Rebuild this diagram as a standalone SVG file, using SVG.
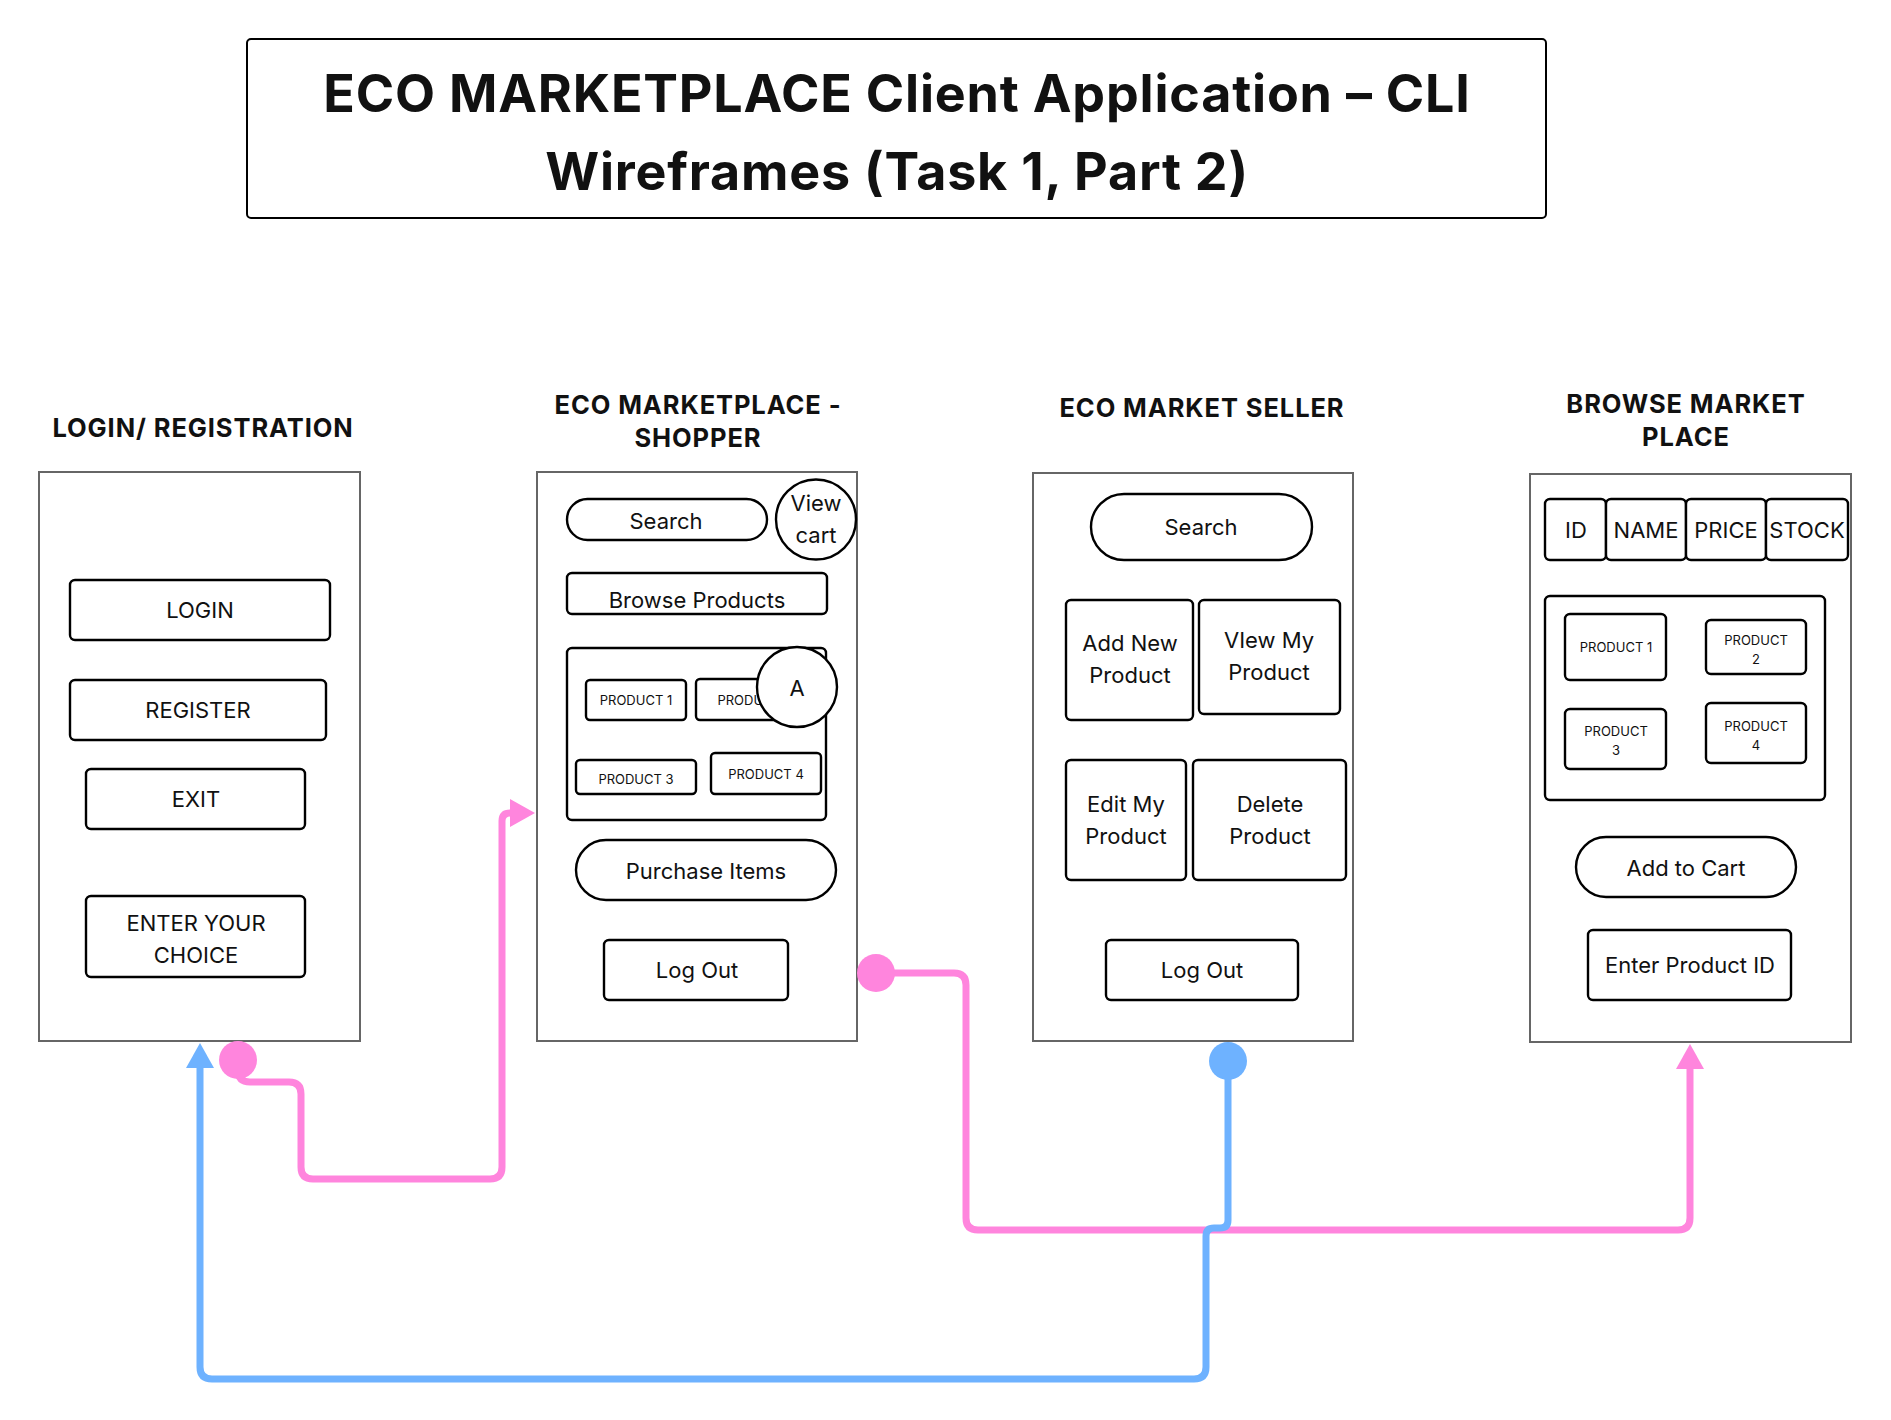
<svg xmlns="http://www.w3.org/2000/svg" width="1891" height="1420" viewBox="0 0 1891 1420">
<style>
.panel{fill:#fff;stroke:#666;stroke-width:2}
.box{fill:#fff;stroke:#000;stroke-width:2.4}
.t{font-family:Inter,"Liberation Sans",sans-serif;font-size:22px;fill:#111;text-anchor:middle}
.ts{font-size:13px}
.h{font-weight:700;font-size:25.5px;letter-spacing:0.9px}
.title{font-weight:700;font-size:52px;letter-spacing:0.8px}
.pink{fill:none;stroke:#FF85DD;stroke-width:7}
.blue{fill:none;stroke:#6EB2FF;stroke-width:7}
</style>
<defs>
<marker id="arrP" markerUnits="userSpaceOnUse" markerWidth="26" markerHeight="30" refX="1" refY="15" orient="auto" overflow="visible"><path d="M0,1 L25,15 L0,29 Z" fill="#FF85DD"/></marker>
<marker id="arrB" markerUnits="userSpaceOnUse" markerWidth="26" markerHeight="30" refX="1" refY="15" orient="auto" overflow="visible"><path d="M0,1 L25,15 L0,29 Z" fill="#6EB2FF"/></marker>
<marker id="dotP" markerUnits="userSpaceOnUse" markerWidth="40" markerHeight="40" refX="20" refY="20" orient="auto" overflow="visible"><circle cx="20" cy="20" r="19" fill="#FF85DD"/></marker>
<marker id="dotB" markerUnits="userSpaceOnUse" markerWidth="40" markerHeight="40" refX="20" refY="20" orient="auto" overflow="visible"><circle cx="20" cy="20" r="19" fill="#6EB2FF"/></marker>
</defs>
<rect width="1891" height="1420" fill="#fff"/>

<g id="title">
<rect x="247" y="39" width="1299" height="179" rx="4" fill="#fff" stroke="#000" stroke-width="2"/>
<text class="t title" x="897" y="112">ECO MARKETPLACE Client Application – CLI</text>
<text class="t title" x="897" y="190">Wireframes (Task 1, Part 2)</text>
</g>

<g id="login">
<text class="t h" x="203" y="437">LOGIN/ REGISTRATION</text>
<rect class="panel" x="39" y="472" width="321" height="569"/>
<rect class="box" x="70" y="580" width="260" height="60" rx="5"/>
<text class="t" x="200" y="618">LOGIN</text>
<rect class="box" x="70" y="680" width="256" height="60" rx="5"/>
<text class="t" x="198" y="718">REGISTER</text>
<rect class="box" x="86" y="769" width="219" height="60" rx="5"/>
<text class="t" x="196" y="807">EXIT</text>
<rect class="box" x="86" y="896" width="219" height="81" rx="5"/>
<text class="t" x="196" y="931">ENTER YOUR</text>
<text class="t" x="196" y="963">CHOICE</text>
</g>

<g id="shopper">
<text class="t h" x="698" y="414">ECO MARKETPLACE -</text>
<text class="t h" x="698" y="447">SHOPPER</text>
<rect class="panel" x="537" y="472" width="320" height="569"/>
<rect class="box" x="567" y="499" width="200" height="41" rx="20.5"/>
<text class="t" x="666" y="529">Search</text>
<circle class="box" cx="816" cy="519.5" r="40"/>
<text class="t" x="816" y="511">View</text>
<text class="t" x="816" y="543">cart</text>
<rect class="box" x="567" y="573" width="260" height="41" rx="5"/>
<text class="t" x="697" y="608">Browse Products</text>
<rect class="box" x="567" y="648" width="259" height="172" rx="5"/>
<rect class="box" x="586" y="680" width="100" height="40" rx="4"/>
<text class="t ts" x="636" y="705">PRODUCT 1</text>
<rect class="box" x="696" y="679" width="118" height="41" rx="4"/>
<text class="t ts" x="755" y="705">PRODUCT 2</text>
<circle class="box" cx="797" cy="687" r="40"/>
<text class="t" x="797" y="696">A</text>
<rect class="box" x="576" y="760" width="120" height="34" rx="4"/>
<text class="t ts" x="636" y="784">PRODUCT 3</text>
<rect class="box" x="711" y="753" width="110" height="41" rx="4"/>
<text class="t ts" x="766" y="779">PRODUCT 4</text>
<rect class="box" x="576" y="840" width="260" height="60" rx="30"/>
<text class="t" x="706" y="879">Purchase Items</text>
<rect class="box" x="604" y="940" width="184" height="60" rx="5"/>
<text class="t" x="697" y="978">Log Out</text>
</g>

<g id="seller">
<text class="t h" x="1202" y="417">ECO MARKET SELLER</text>
<rect class="panel" x="1033" y="473" width="320" height="568"/>
<rect class="box" x="1091" y="494" width="221" height="66" rx="33"/>
<text class="t" x="1201" y="535">Search</text>
<rect class="box" x="1066" y="600" width="127" height="120" rx="5"/>
<text class="t" x="1130" y="651">Add New</text>
<text class="t" x="1130" y="683">Product</text>
<rect class="box" x="1199" y="600" width="141" height="114" rx="5"/>
<text class="t" x="1269" y="648">VIew My</text>
<text class="t" x="1269" y="680">Product</text>
<rect class="box" x="1066" y="760" width="120" height="120" rx="5"/>
<text class="t" x="1126" y="812">Edit My</text>
<text class="t" x="1126" y="844">Product</text>
<rect class="box" x="1193" y="760" width="153" height="120" rx="5"/>
<text class="t" x="1270" y="812">Delete</text>
<text class="t" x="1270" y="844">Product</text>
<rect class="box" x="1106" y="940" width="192" height="60" rx="5"/>
<text class="t" x="1202" y="978">Log Out</text>
</g>

<g id="browse">
<text class="t h" x="1686" y="413">BROWSE MARKET</text>
<text class="t h" x="1686" y="446">PLACE</text>
<rect class="panel" x="1530" y="474" width="321" height="568"/>
<rect class="box" x="1545" y="499" width="61" height="61" rx="5"/>
<text class="t" x="1576" y="538">ID</text>
<rect class="box" x="1606" y="499" width="80" height="61" rx="5"/>
<text class="t" x="1646" y="538">NAME</text>
<rect class="box" x="1686" y="499" width="80" height="61" rx="5"/>
<text class="t" x="1726" y="538">PRICE</text>
<rect class="box" x="1766" y="499" width="82" height="61" rx="5"/>
<text class="t" x="1807" y="538">STOCK</text>
<rect class="box" x="1545" y="596" width="280" height="204" rx="5"/>
<rect class="box" x="1565" y="614" width="101" height="66" rx="5"/>
<text class="t ts" x="1616" y="652">PRODUCT 1</text>
<rect class="box" x="1706" y="620" width="100" height="54" rx="5"/>
<text class="t ts" x="1756" y="645">PRODUCT</text>
<text class="t ts" x="1756" y="664">2</text>
<rect class="box" x="1565" y="709" width="101" height="60" rx="5"/>
<text class="t ts" x="1616" y="736">PRODUCT</text>
<text class="t ts" x="1616" y="755">3</text>
<rect class="box" x="1706" y="703" width="100" height="60" rx="5"/>
<text class="t ts" x="1756" y="731">PRODUCT</text>
<text class="t ts" x="1756" y="750">4</text>
<rect class="box" x="1576" y="837" width="220" height="60" rx="30"/>
<text class="t" x="1686" y="876">Add to Cart</text>
<rect class="box" x="1588" y="930" width="203" height="70" rx="5"/>
<text class="t" x="1690" y="973">Enter Product ID</text>
</g>

<g id="connectors">
<path class="pink" marker-start="url(#dotP)" marker-end="url(#arrP)" d="M238,1060 V1070 Q238,1082 250,1082 H289 Q301,1082 301,1094 V1167 Q301,1179 313,1179 H490 Q502,1179 502,1167 V821 Q502,813 510,813 H511"/>
<path class="pink" marker-start="url(#dotP)" marker-end="url(#arrP)" d="M876,973 H954 Q966,973 966,985 V1218 Q966,1230 978,1230 H1678 Q1690,1230 1690,1218 V1068"/>
<path class="blue" marker-start="url(#dotB)" marker-end="url(#arrB)" d="M1228,1061 V1220 Q1228,1228 1220,1228 H1214 Q1206,1228 1206,1236 V1367 Q1206,1379 1194,1379 H212 Q200,1379 200,1367 V1067"/>
</g>
</svg>
